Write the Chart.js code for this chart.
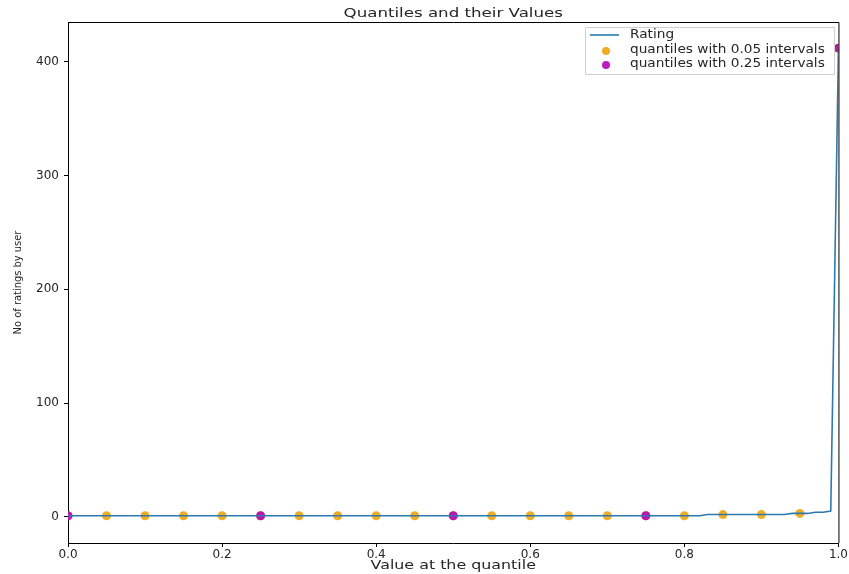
<!DOCTYPE html>
<html>
<head>
<meta charset="utf-8">
<script src="https://cdn.jsdelivr.net/npm/chart.js@4/dist/chart.umd.min.js"></script>
<style>
  html, body { margin: 0; padding: 0; background: #ffffff; }
  #wrap { width: 849px; height: 574px; }
</style>
</head>
<body>
<div id="wrap"><canvas id="c" width="849" height="574"></canvas></div>
<script>
// Quantile positions (0.00 .. 1.00 in steps of 0.01) and number of ratings per user at each
const quantiles = [
  0.00,0.01,0.02,0.03,0.04,0.05,0.06,0.07,0.08,0.09,
  0.10,0.11,0.12,0.13,0.14,0.15,0.16,0.17,0.18,0.19,
  0.20,0.21,0.22,0.23,0.24,0.25,0.26,0.27,0.28,0.29,
  0.30,0.31,0.32,0.33,0.34,0.35,0.36,0.37,0.38,0.39,
  0.40,0.41,0.42,0.43,0.44,0.45,0.46,0.47,0.48,0.49,
  0.50,0.51,0.52,0.53,0.54,0.55,0.56,0.57,0.58,0.59,
  0.60,0.61,0.62,0.63,0.64,0.65,0.66,0.67,0.68,0.69,
  0.70,0.71,0.72,0.73,0.74,0.75,0.76,0.77,0.78,0.79,
  0.80,0.81,0.82,0.83,0.84,0.85,0.86,0.87,0.88,0.89,
  0.90,0.91,0.92,0.93,0.94,0.95,0.96,0.97,0.98,0.99,
  1.00
];
const ratingValues = [
  1,1,1,1,1,1,1,1,1,1,
  1,1,1,1,1,1,1,1,1,1,
  1,1,1,1,1,1,1,1,1,1,
  1,1,1,1,1,1,1,1,1,1,
  1,1,1,1,1,1,1,1,1,1,
  1,1,1,1,1,1,1,1,1,1,
  1,1,1,1,1,1,1,1,1,1,
  1,1,1,1,1,1,1,1,1,1,
  1,1,1,2,2,2,2,2,2,2,
  2,2,2,2,3,3,3,4,4,5,
  412
];

// Quantiles every 0.05
const q05 = [0.00,0.05,0.10,0.15,0.20,0.25,0.30,0.35,0.40,0.45,0.50,0.55,0.60,0.65,0.70,0.75,0.80,0.85,0.90,0.95,1.00];
const q05Values = [1,1,1,1,1,1,1,1,1,1,1,1,1,1,1,1,1,2,2,3,412];

// Quantiles every 0.25
const q25 = [0.00,0.25,0.50,0.75,1.00];
const q25Values = [1,1,1,1,412];

const xTicks = [0.0,0.2,0.4,0.6,0.8,1.0];
const yTicks = [0,100,200,300,400];

const chartTitle = 'Quantiles and their Values';
const xTitle = 'Value at the quantile';
const yTitle = 'No of ratings by user';
const seriesLabels = ['Rating','quantiles with 0.05 intervals','quantiles with 0.25 intervals'];
const seriesColors = ['#2a7ab0','rgba(240,165,20,0.92)','rgba(185,10,185,0.92)'];

const pts = (xs, ys) => xs.map((x, i) => ({ x: x, y: ys[i] }));

const FONT = "'DejaVu Sans', sans-serif";
const INK = '#262626';

// draw text with a horizontal stretch factor
function wideText(ctx, text, x, y, sx, align) {
  ctx.save();
  ctx.translate(x, y);
  ctx.scale(sx, 1);
  ctx.textAlign = align;
  ctx.fillText(text, 0, 0);
  ctx.restore();
}

// Title, axis titles, frame (top/right spines) and legend box
const decorations = {
  id: 'decorations',
  afterDraw(chart) {
    const ctx = chart.ctx;
    const a = chart.chartArea;
    const cx = (a.left + a.right) / 2;
    ctx.save();
    ctx.strokeStyle = '#000';
    ctx.lineWidth = 1;
    ctx.beginPath();
    ctx.moveTo(a.left, a.top + 0.5);
    ctx.lineTo(a.right + 0.5, a.top + 0.5);
    ctx.lineTo(a.right + 0.5, a.bottom);
    ctx.stroke();

    ctx.fillStyle = INK;
    ctx.textBaseline = 'middle';

    // title
    ctx.font = "13px " + FONT;
    wideText(ctx, chartTitle, cx, 14, 1.28, 'center');

    // x axis title
    ctx.font = "13px " + FONT;
    wideText(ctx, xTitle, cx, 566, 1.22, 'center');

    // y axis title (narrow face, rotated)
    ctx.save();
    ctx.translate(18, (a.top + a.bottom) / 2);
    ctx.rotate(-Math.PI / 2);
    ctx.font = "11px 'Liberation Sans Narrow', 'DejaVu Sans Condensed', sans-serif";
    ctx.textAlign = 'center';
    ctx.fillText(yTitle, 0, 0);
    ctx.restore();

    // legend
    const bx = 585, by = 27, bw = 249, bh = 47;
    ctx.fillStyle = 'rgba(255,255,255,0.85)';
    ctx.strokeStyle = '#d0d0d0';
    ctx.beginPath();
    ctx.rect(bx + 0.5, by + 0.5, bw, bh);
    ctx.fill();
    ctx.stroke();
    const rows = [35, 50, 64];
    ctx.font = "11.5px " + FONT;
    rows.forEach((ry, i) => {
      if (i === 0) {
        ctx.strokeStyle = seriesColors[0];
        ctx.lineWidth = 1.6;
        ctx.beginPath();
        ctx.moveTo(590, ry);
        ctx.lineTo(619, ry);
        ctx.stroke();
      } else {
        ctx.fillStyle = seriesColors[i];
        ctx.beginPath();
        ctx.arc(606, ry + 1, 4, 0, Math.PI * 2);
        ctx.fill();
      }
      ctx.fillStyle = INK;
      wideText(ctx, seriesLabels[i], 630, ry, 1.19, 'left');
    });
    ctx.restore();
  }
};

new Chart(document.getElementById('c'), {
  type: 'scatter',
  data: {
    datasets: [
      {
        type: 'line',
        label: seriesLabels[0],
        data: pts(quantiles, ratingValues),
        borderColor: seriesColors[0],
        borderWidth: 1.6,
        pointRadius: 0,
        fill: false,
        tension: 0,
        order: 0
      },
      {
        label: seriesLabels[1],
        data: pts(q05, q05Values),
        backgroundColor: seriesColors[1],
        borderWidth: 0,
        pointRadius: 4.5,
        order: 2
      },
      {
        label: seriesLabels[2],
        data: pts(q25, q25Values),
        backgroundColor: seriesColors[2],
        borderWidth: 0,
        pointRadius: 4.5,
        order: 1
      }
    ]
  },
  options: {
    responsive: false,
    animation: false,
    layout: { padding: { top: 22, right: 9, left: 0, bottom: 0 } },
    plugins: {
      legend: { display: false },
      tooltip: { enabled: false },
      title: { display: false }
    },
    scales: {
      x: {
        type: 'linear',
        min: 0,
        max: 1,
        afterBuildTicks: s => { s.ticks = xTicks.map(v => ({ value: v })); },
        afterFit: s => { s.height = 31; },
        grid: { drawOnChartArea: false, drawTicks: true, tickLength: 4, color: '#000' },
        border: { display: true, color: '#000', width: 1 },
        ticks: {
          color: INK,
          font: { family: FONT, size: 12 },
          padding: 1,
          maxRotation: 0,
          callback: v => Number(v).toFixed(1)
        }
      },
      y: {
        type: 'linear',
        min: -23,
        max: 435,
        afterBuildTicks: s => { s.ticks = yTicks.map(v => ({ value: v })); },
        afterFit: s => { s.width = 68; },
        grid: { drawOnChartArea: false, drawTicks: true, tickLength: 4, color: '#000' },
        border: { display: true, color: '#000', width: 1 },
        ticks: {
          color: INK,
          font: { family: FONT, size: 12 },
          padding: 5
        }
      }
    }
  },
  plugins: [decorations]
});
</script>
</body>
</html>
